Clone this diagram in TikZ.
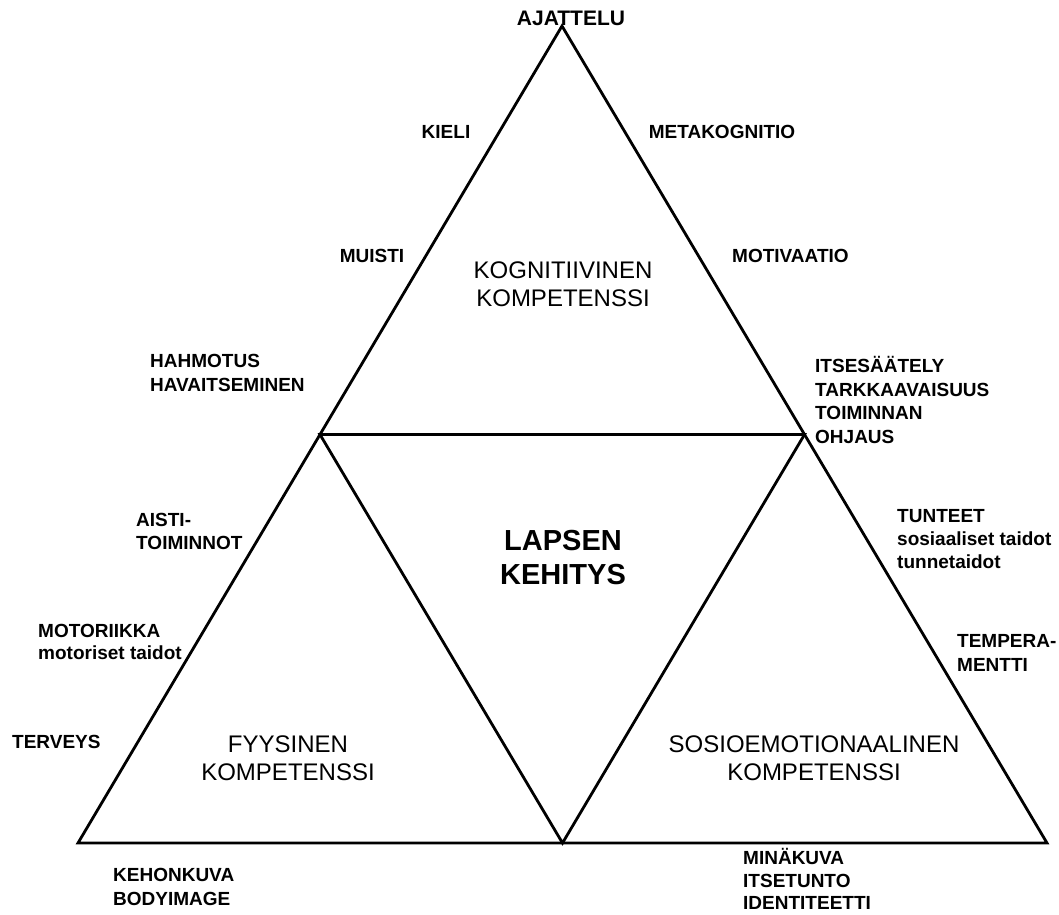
\documentclass[tikz,border=0pt]{standalone}
\usepackage{fontspec}
\setmainfont{Liberation Sans}
\usetikzlibrary{calc}
\begin{document}
\begin{tikzpicture}[x=1pt,y=-1pt,
  edge/.style={line width=2.8pt,line join=miter},
  lbl/.style={font=\bfseries\fontsize{19}{23}\selectfont,inner sep=0pt,align=left},
  comp/.style={font=\fontsize{24}{27.5}\selectfont,inner sep=0pt,align=center},
  big/.style={font=\bfseries\fontsize{29}{34}\selectfont,inner sep=0pt,align=center}]
\useasboundingbox (0,0) rectangle (1059,914);
% corners
\coordinate (A) at (562,26);
\coordinate (BL) at (78,843);
\coordinate (BR) at (1047,843);
\coordinate (ML) at ($(A)!0.5!(BL)$);
\coordinate (MR) at ($(A)!0.5!(BR)$);
\coordinate (MB) at ($(BL)!0.5!(BR)$);
\draw[edge] (A) -- (BL) -- (BR) -- cycle;
\draw[edge] (ML) -- (MR) -- (MB) -- cycle;
% labels
\node[lbl,font=\bfseries\fontsize{21}{23}\selectfont] (ajattelu) at (571,18) {AJATTELU};
\node[lbl] (kieli) at (446,132) {KIELI};
\node[lbl] (meta) at (722,132) {METAKOGNITIO};
\node[lbl] (muisti) at (372,256) {MUISTI};
\node[lbl,anchor=west] (motiv) at (732,256) {MOTIVAATIO};
\node[comp] (kogn) at (563,284) {KOGNITIIVINEN\\KOMPETENSSI};
\node[lbl,anchor=west,font=\bfseries\fontsize{19}{24}\selectfont] (hahm) at (150,373) {HAHMOTUS\\HAVAITSEMINEN};
\node[lbl,anchor=west,font=\bfseries\fontsize{19}{23.5}\selectfont] (itse) at (815,400) {ITSESÄÄTELY\\TARKKAAVAISUUS\\TOIMINNAN\\OHJAUS};
\node[lbl,anchor=west] (aisti) at (136,531) {AISTI-\\TOIMINNOT};
\node[big] (lapsen) at (563,558) {LAPSEN\\KEHITYS};
\node[lbl,anchor=west] (tunteet) at (897,539) {TUNTEET\\sosiaaliset taidot\\tunnetaidot};
\node[lbl,anchor=west,font=\bfseries\fontsize{19}{22}\selectfont] (motor) at (38,642) {MOTORIIKKA\\motoriset taidot};
\node[lbl,anchor=west,font=\bfseries\fontsize{19}{24}\selectfont] (temp) at (957,653) {TEMPERA-\\MENTTI};
\node[lbl,anchor=west] (terv) at (12,742) {TERVEYS};
\node[comp] (fyys) at (288,758) {FYYSINEN\\KOMPETENSSI};
\node[comp] (sosio) at (814,758) {SOSIOEMOTIONAALINEN\\KOMPETENSSI};
\node[lbl,anchor=west,font=\bfseries\fontsize{19}{24}\selectfont] (keho) at (113,887) {KEHONKUVA\\BODYIMAGE};
\node[lbl,anchor=west,font=\bfseries\fontsize{19}{22.5}\selectfont] (mina) at (743,879) {MINÄKUVA\\ITSETUNTO\\IDENTITEETTI};
\end{tikzpicture}
\end{document}
